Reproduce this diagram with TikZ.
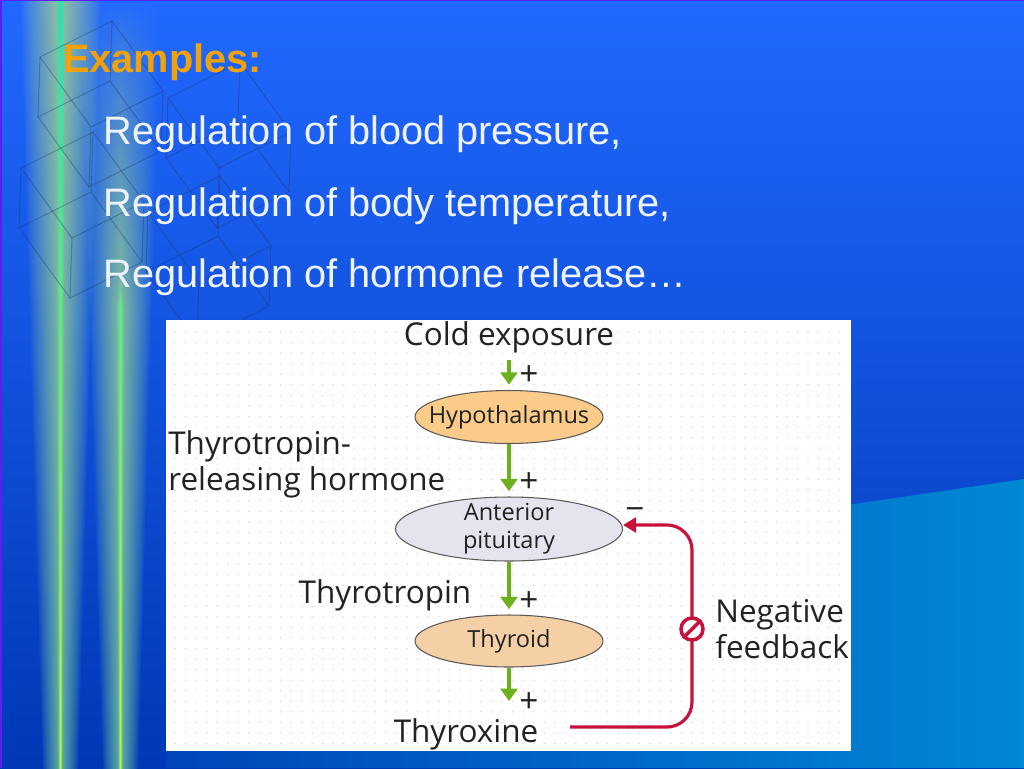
\documentclass[tikz,border=0pt]{standalone}
\usepackage{fontspec}
\setmainfont{Liberation Sans}
\newfontfamily\labelfont{Open Sans}
\usetikzlibrary{shapes.geometric,arrows.meta}

\definecolor{bgtop}{rgb}{0.13,0.41,1.0}
\definecolor{bgbot}{rgb}{0,0.22,0.71}
\definecolor{wedgeright}{HTML}{0088D4}
\definecolor{edgeline}{HTML}{5A20F0}
\definecolor{titlecol}{HTML}{F0A208}
\definecolor{bodycol}{HTML}{EEF3FF}
\definecolor{cubecol}{HTML}{1A3A70}
\definecolor{greenline}{HTML}{6CB01E}
\definecolor{redline}{HTML}{C8123C}
\definecolor{hypofill}{HTML}{FBCB8A}
\definecolor{pitfill}{HTML}{E4E4EE}
\definecolor{thyfill}{HTML}{F5CFA5}
\definecolor{labeltext}{HTML}{222222}

% one colour channel: bg, halo and core colour, each as value + slope
\pgfdeclarefunctionalshading{beamstrip}{\pgfpointorigin}{\pgfpoint{100bp}{100bp}}{
  \def\beamwt#1{1 index #1 sub abs 1 index 22 mul 40 exch sub div 1 exch sub dup 0 lt {pop 0} if }
  \def\beamcore{0.88 sub 0.12 div dup 0 lt {pop 0} if }
  \def\beamchan#1#2#3#4#5#6{2 index #2 mul #1 add 2 index neg 1 add mul 3 index #4 mul #3 add 3 index mul add 1 index neg 1 add mul 3 index #6 mul #5 add 2 index mul add 4 1 roll }
}{
  75 exch sub 50 div exch 25 sub 3.32 mul exch
  \beamwt{60} 3 1 roll
  \beamwt{120} 3 -1 roll pop exch 3 1 roll
  2 index 0.4 div dup 1 gt {pop 1} if mul
  1 index 0.8 exp 1 index 0.8 exp add 0.85 mul 3 1 roll
  \beamcore exch \beamcore add
  \beamchan{0.13}{-0.13}{0.65}{-0.20}{0.12}{0.60}
  \beamchan{0.41}{-0.19}{0.82}{-0.04}{0.90}{0.08}
  \beamchan{1.00}{-0.29}{0.55}{0.07}{0.70}{-0.45}
  pop pop pop
}

\newcommand{\cubeat}[2]{
  \begin{scope}[shift={(#1,#2)}]
    \draw[cubeline] (0,0) -- (-72,36) -- (-74,96) -- (-2,60) -- cycle;
    \draw[cubeline] (51,70) -- (-21,106) -- (-23,166) -- (49,130) -- cycle;
    \draw[cubeline] (0,0) -- (51,70);
    \draw[cubeline] (-72,36) -- (-21,106);
    \draw[cubeline] (-74,96) -- (-23,166);
    \draw[cubeline] (-2,60) -- (49,130);
  \end{scope}
}

\tikzset{
  cubeline/.style={draw=cubecol,opacity=0.35,line width=0.6pt},
  slidetext/.style={anchor=base west,inner sep=0pt,text=bodycol,font=\fontsize{22.6}{27}\selectfont},
  organ/.style={ellipse,draw=black!65,line width=0.6pt,inner xsep=-10pt,inner ysep=-6pt,text=labeltext,align=center,font=\labelfont\fontsize{13.4}{15.8}\selectfont},
  bigtext/.style={inner sep=0pt,text=labeltext,align=left,font=\labelfont\fontsize{17.9}{20.4}\selectfont},
  signtext/.style={inner sep=0pt,text=labeltext,font=\labelfont\fontsize{19}{20}\selectfont},
  stim/.style={draw=greenline,line width=1.8pt,-{Triangle[length=7pt,width=9.5pt]}},
  inhib/.style={draw=redline,line width=1.8pt,rounded corners=0.5cm,-{Triangle[length=7.5pt,width=8.5pt]}}
}

\begin{document}
\begin{tikzpicture}[x=0.02cm,y=-0.02cm]
\useasboundingbox (0,0) rectangle (1024,768);
%% background
\shade[top color=bgtop,bottom color=bgbot] (0,0) rectangle (1024,768);
\shade[left color=bgbot,middle color=bgbot!70!wedgeright,right color=wedgeright] (0,630) -- (1024,479) -- (1024,768) -- (0,768) -- cycle;
%% beams
\shade[shading=beamstrip] (0,0) rectangle (166,768);
%% cubes
\cubeat{112}{21}
\cubeat{93}{132}
\cubeat{240}{62}
\cubeat{220}{176}
%% edge
\fill[edgeline] (0,0) rectangle (2,768);
\fill[edgeline] (0,0) rectangle (1024,1);
%% text
\node[slidetext,text=titlecol,font=\bfseries\fontsize{22.6}{27}\selectfont] (title) at (63,72) {Examples:};
\node[slidetext] (line1) at (103,144) {Regulation of blood pressure,};
\node[slidetext] (line2) at (103,216) {Regulation of body temperature,};
\node[slidetext] (line3) at (103,287) {Regulation of hormone release…};
%% figure
\fill[white] (166,320) rectangle (851,751);
\foreach \i in {0,...,63}
  \foreach \j in {0,...,39}
    \fill[black!16] (175+10.55*\i,332+10.55*\j) circle (0.8);
\node[organ,fill=hypofill,minimum width=3.76cm,minimum height=1.06cm] (hypo) at (509,417) {Hypothalamus};
\node[organ,fill=pitfill,minimum width=4.54cm,minimum height=1.28cm] (pituitary) at (509,529) {Anterior\\pituitary};
\node[organ,fill=thyfill,minimum width=3.76cm,minimum height=1.04cm] (thyroid) at (509,641) {Thyroid};
\node[bigtext] (cold) at (509,337) {Cold exposure};
\node[bigtext,anchor=west] (trh) at (168,464) {Thyrotropin-\\releasing hormone};
\node[bigtext] (tsh) at (385,595) {Thyrotropin};
\node[bigtext] (thyroxine) at (466,734) {Thyroxine};
\node[bigtext,anchor=west] (feedback) at (715,629) {Negative\\feedback};
\node[signtext] (plusa) at (529,376) {+};
\node[signtext] (plusb) at (529,483) {+};
\node[signtext] (plusc) at (529,602) {+};
\node[signtext] (plusd) at (529,703) {+};
\node[signtext] (minus) at (635,514) {−};
\coordinate (thyroxinein) at (509,701);
\coordinate (fbstart) at (570,727);
\coordinate (fbtop) at (692,525);
\draw[stim,shorten <=4pt,shorten >=3pt] (cold) -- (hypo);
\draw[stim,shorten >=3pt] (hypo) -- (pituitary);
\draw[stim,shorten >=3pt] (pituitary) -- (thyroid);
\draw[stim] (thyroid) -- (thyroxinein);
\draw[inhib] (fbstart) -| (fbtop) -- (fbtop -| pituitary.east);
\node[circle,draw=redline,line width=2pt,fill=white,minimum size=0.44cm,inner sep=0pt] (stopmark) at (692,629) {};
\draw[redline,line width=2pt] (stopmark.225) -- (stopmark.45);
\end{tikzpicture}
\end{document}
